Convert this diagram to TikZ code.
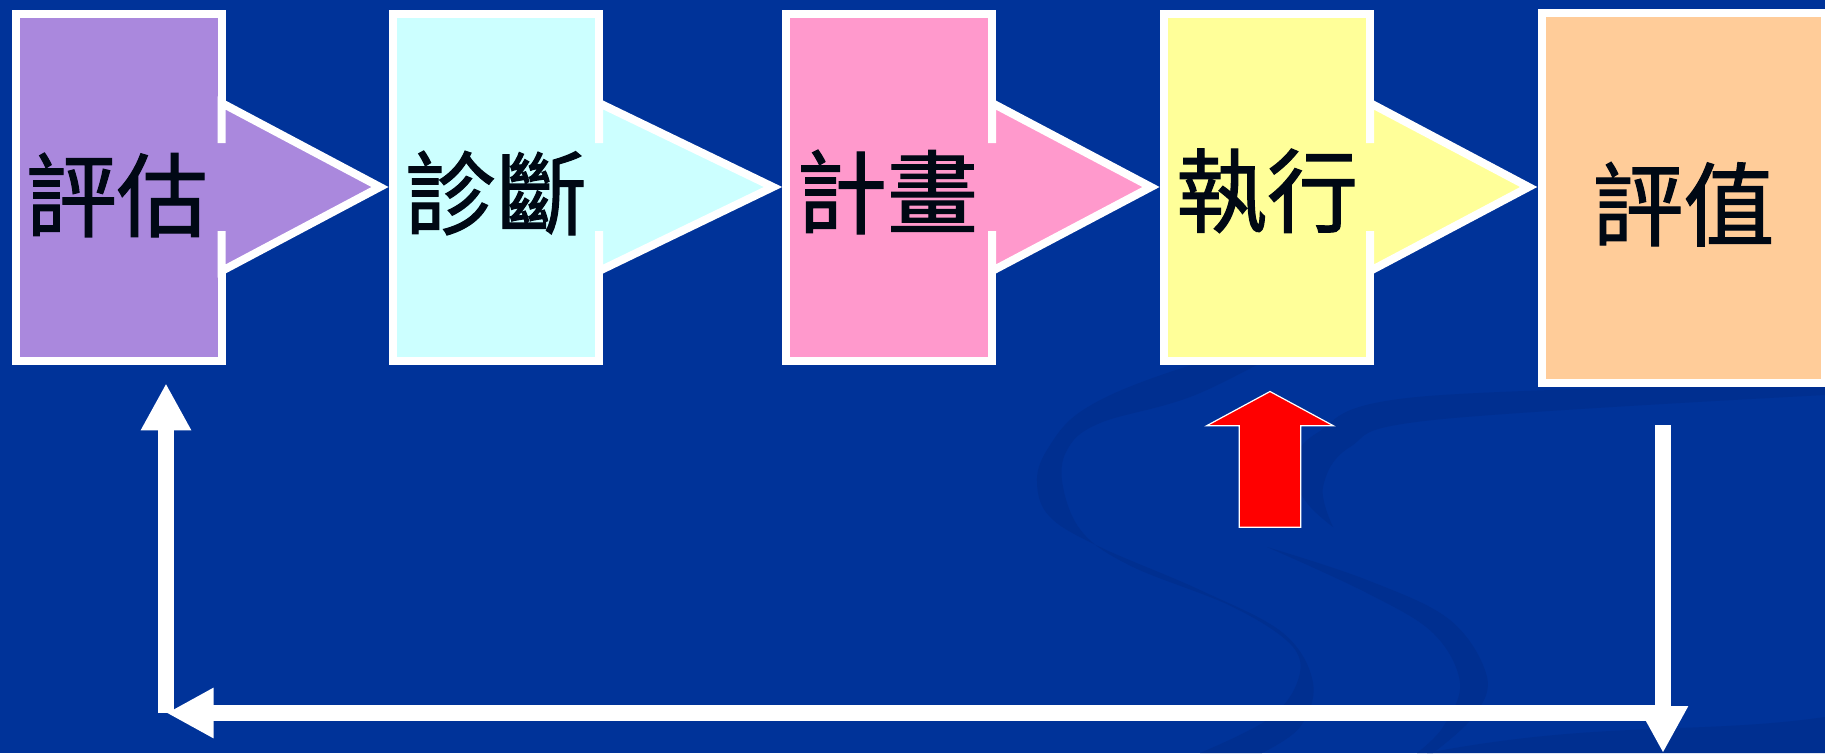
\documentclass[tikz,border=0pt]{standalone}
\usepackage{fontspec}
\newfontfamily\cjk[FakeBold=1.3]{Noto Sans CJK TC}
\usetikzlibrary{calc,arrows.meta}
\definecolor{bg}{RGB}{0,51,153}
\definecolor{sw}{RGB}{0,47,144}
\definecolor{cpurple}{RGB}{170,136,221}
\definecolor{ccyan}{RGB}{204,255,255}
\definecolor{cpink}{RGB}{255,153,204}
\definecolor{cyellow}{RGB}{255,255,153}
\definecolor{cpeach}{RGB}{255,204,153}
\definecolor{cred}{RGB}{255,0,0}
\definecolor{ink}{RGB}{0,8,20}
\tikzset{
  stepbox/.style={rectangle, draw=white, line width=8pt, minimum width=206pt,
    minimum height=347pt, inner sep=0pt, outer sep=0pt},
  lbl/.style={font=\cjk\fontsize{91}{104}\selectfont, text=ink, inner sep=0pt},
  headline/.style={draw=white, line width=8pt, line join=miter, miter limit=10},
  fb/.style={draw=white, line width=15.5pt, -{Triangle[length=47pt,width=47pt]}},
  swoosh/.style={fill=sw}
}
\begin{document}
\begin{tikzpicture}[x=1pt,y=-1pt]
\useasboundingbox (0,0) rectangle (1825,753);
\fill[bg] (0,0) rectangle (1825,753);
% background swooshes
\fill[swoosh] plot[smooth, tension=0.6] coordinates {(1330,325) (1167,373) (1083,410) (1047,450) (1037,483) (1050,517) (1100,547) (1200,590) (1283,633) (1313,683) (1300,727) (1262,753)}
  -- plot[smooth, tension=0.6] coordinates {(1200,753) (1267,720) (1297,683) (1293,647) (1233,607) (1133,567) (1083,533) (1063,487) (1067,450) (1100,423) (1200,393) (1330,325)} -- cycle;
\fill[swoosh] plot[smooth, tension=0.6] coordinates {(1825,383) (1417,397) (1317,433) (1293,470) (1307,503) (1333,527)}
  -- plot[smooth, tension=0.6] coordinates {(1333,527) (1323,487) (1350,447) (1433,420) (1825,395)} -- cycle;
\fill[swoosh] plot[smooth, tension=0.6] coordinates {(1267,547) (1367,580) (1450,620) (1487,677) (1473,717) (1433,753)}
  -- plot[smooth, tension=0.6] coordinates {(1417,753) (1443,727) (1460,683) (1433,633) (1367,593) (1267,547)} -- cycle;
\fill[swoosh] (1427,753) .. controls (1600,720) and (1700,735) .. (1825,717) -- (1825,753) -- cycle;

% boxes
\node[stepbox, fill=cpurple] (b1) at (118.7,187) {};
\node[stepbox, fill=ccyan]   (b2) at (496,187) {};
\node[stepbox, fill=cpink]   (b3) at (889,187) {};
\node[stepbox, fill=cyellow] (b4) at (1267,187) {};
\node[stepbox, fill=cpeach, minimum width=283.3pt, minimum height=369.7pt] (b5) at (1683.35,198.2) {};

% arrow heads between boxes
\foreach \a/\b/\c in {b1/b2/cpurple, b2/b3/ccyan, b3/b4/cpink, b4/b5/cyellow}{
  \fill[\c] ($(\a.east)+(-4.5,-44)$) rectangle ($(\a.east)+(4.5,44)$);
  \fill[\c] ($(\a.east)+(0,-84)$) -- ($(\b.west |- \a.east)+(-13,0)$) -- ($(\a.east)+(0,84)$) -- cycle;
  \draw[headline] ($(\a.east)+(0,-44)$) -- ($(\a.east)+(0,-84)$) -- ($(\b.west |- \a.east)+(-13,0)$) -- ($(\a.east)+(0,84)$) -- ($(\a.east)+(0,44)$);
}

% red block arrow
\coordinate (redtip) at (1270,391.5);
\draw[white, line width=1.2pt, fill=cred] (redtip) -- (1333.3,425.7) -- (1300.7,425.7) -- (1300.7,527.3) -- (1239.3,527.3) -- (1239.3,425.7) -- (1206.7,425.7) -- cycle;

% feedback loop
\coordinate (fA) at (1663,425);
\coordinate (fB) at (1663,753);
\coordinate (fC) at (1663,713);
\coordinate (fD) at (166.5,713);
\coordinate (fE) at (166,713);
\coordinate (fF) at (166,383.3);
\draw[fb] (fA) -- (fB);
\draw[fb] (fC) -- (fD);
\draw[fb] (fE) -- (fF);

% labels
\node[lbl] (t1) at ($(b1.center)+(-2,8)$) {評估};
\node[lbl] (t2) at ($(b2.center)+(0,6)$) {診斷};
\node[lbl] (t3) at ($(b3.center)+(-2,5)$) {計畫};
\node[lbl] (t4) at ($(b4.center)+(0,4)$) {執行};
\node[lbl] (t5) at ($(b5.center)+(0,6)$) {評值};
\end{tikzpicture}
\end{document}
